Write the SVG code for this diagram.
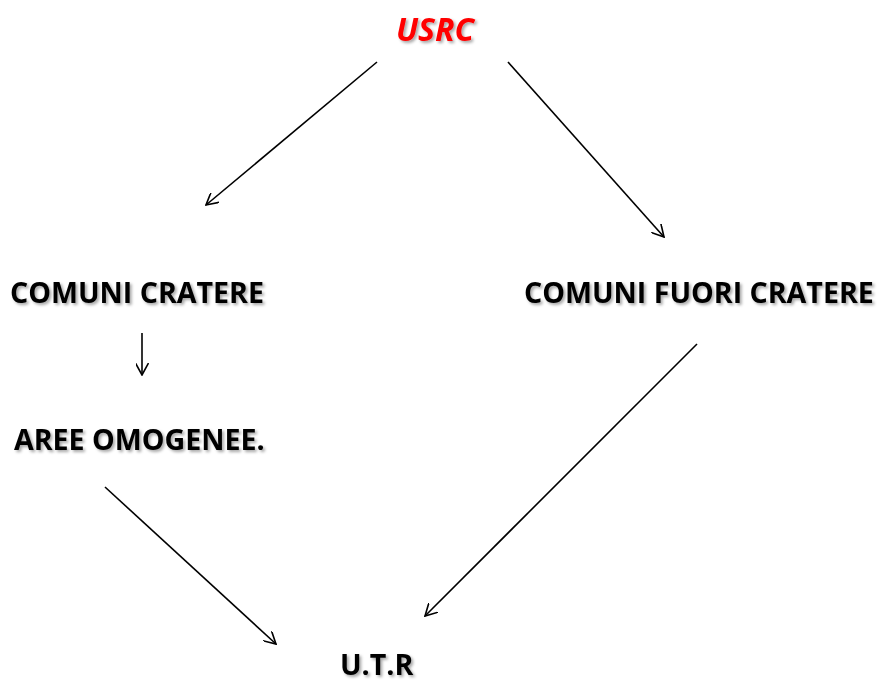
<svg xmlns="http://www.w3.org/2000/svg" width="880" height="682" viewBox="0 0 880 682">
<style>
.t{font-family:"Open Sans","Liberation Sans",sans-serif;font-weight:bold;font-size:28.6px;fill:#000;filter:url(#sh)}
.u{font-size:32px;font-style:italic;fill:#ff0000}
.c{fill:none;stroke:#000;stroke-width:1.6}
</style>
<defs>
<filter id="sh" x="-10%" y="-30%" width="120%" height="160%">
<feDropShadow dx="2" dy="2" stdDeviation="1.5" flood-color="#000" flood-opacity="0.35"/>
</filter>
<marker id="ah" viewBox="0 0 12 12" refX="11" refY="6" markerWidth="13" markerHeight="13" markerUnits="userSpaceOnUse" orient="auto">
<path d="M0,0 L11,6 L0,12" fill="none" stroke="#000" stroke-width="1.5"/>
</marker>
</defs>
<g id="usrc"><text class="t u" x="435" y="41" text-anchor="middle">USRC</text></g>
<g id="comuni-cratere"><text class="t" x="10" y="303">COMUNI CRATERE</text></g>
<g id="comuni-fuori"><text class="t" x="524" y="303">COMUNI FUORI CRATERE</text></g>
<g id="aree"><text class="t" x="14" y="450">AREE OMOGENEE.</text></g>
<g id="utr"><text class="t" x="340" y="675">U.T.R</text></g>
<g id="connectors">
<line class="c" x1="377" y1="62" x2="206" y2="205" marker-end="url(#ah)"/>
<line class="c" x1="508" y1="62" x2="664" y2="237" marker-end="url(#ah)"/>
<line class="c" x1="142" y1="333" x2="142" y2="375" marker-end="url(#ah)"/>
<line class="c" x1="697" y1="344" x2="425" y2="616" marker-end="url(#ah)"/>
<line class="c" x1="105" y1="487" x2="276" y2="644" marker-end="url(#ah)"/>
</g>
</svg>
